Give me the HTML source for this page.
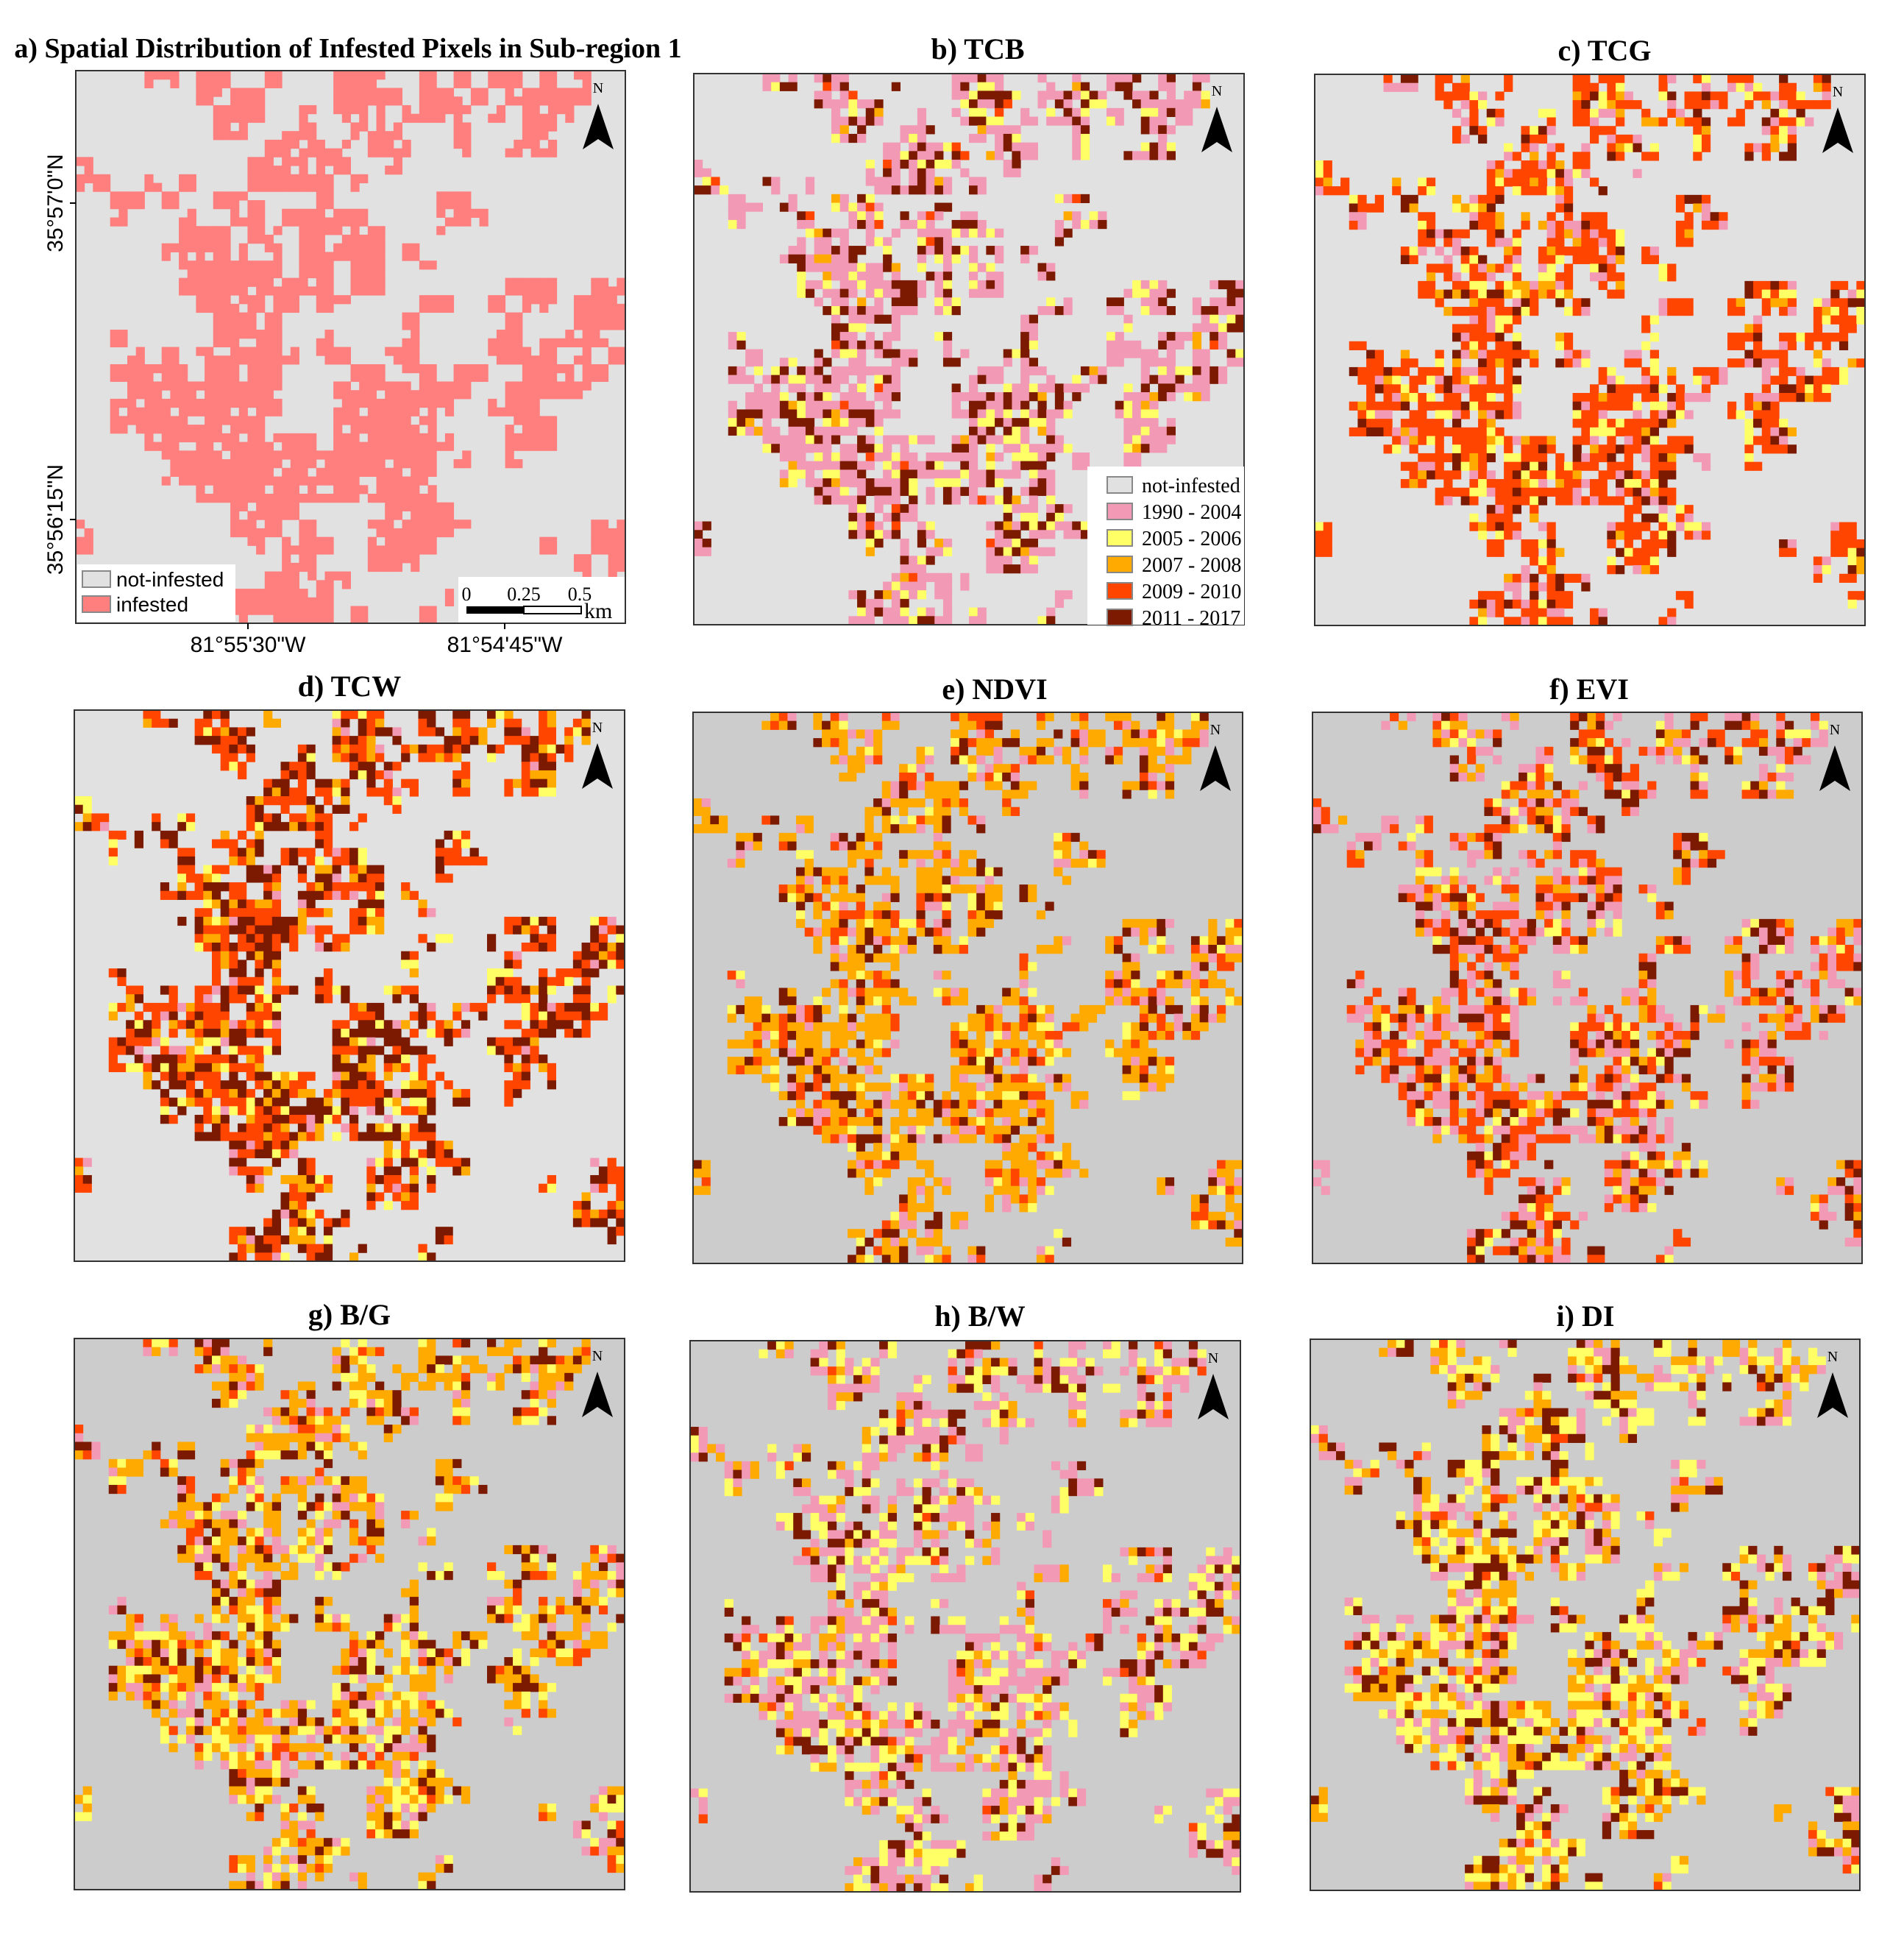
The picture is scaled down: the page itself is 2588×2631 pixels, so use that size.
<!DOCTYPE html>
<html><head><meta charset="utf-8">
<style>
html,body{margin:0;padding:0;background:#fff;}
svg{display:block;}
</style></head>
<body>
<svg id="fig" width="2588" height="2631" viewBox="0 0 2588 2631" xmlns="http://www.w3.org/2000/svg">
<g id="panels"></g>
</svg>
<script>
// Infested mask (32x32 coarse cells)
const maskRows = [
"....##.##..#...###..#.#.##.#.#..",
".......####....####.####.#####..",
"........###..#.###.####.#.###...",
"........##..##..###...#...##....",
"...........#####.###..#..###....",
"#.........######..#.............",
"##..#.#...#####.#...............",
"..##.#..###...#......##.........",
"..#...#..##.#####....###........",
"......###.##.#####...#..........",
".....#####.#.#####.#............",
"......######.##.##..#...........",
"......#########.##.......###..##",
".......######.##....##..#.##.###",
"........####.......#.....#...###",
"..#.....####..#....#....##.####.",
"...#.#.######.##..##....####.#.#",
"..##########....##.##.##..#####.",
"...#########...########..#####..",
"..##########...#######..###.....",
"..#########....######....###....",
"....##########.#######...###....",
".....################.#..#......",
".....################...........",
".......##############...........",
".........####.....####..........",
"#........###.#...######.......##",
"#.........#.###..####......#..##",
"............##...###.........#.#",
"...........#####.............###",
".........######......#.........#",
".........######.#...#..........."
];
const classNames = ["1990 - 2004","2005 - 2006","2007 - 2008","2009 - 2010","2011 - 2017"];
const classColors = ["#f29ab5","#ffff66","#ffaa00","#ff4500","#7b1a00"];
const panelTitles = ["b) TCB","c) TCG","d) TCW","e) NDVI","f) EVI","g) B/G","h) B/W","i) DI"];
// class share per panel: pink, yellow, orange, red, brown
const shareTCB  = [0.58,0.14,0.03,0.02,0.23];
const shareTCG  = [0.15,0.12,0.08,0.55,0.10];
const shareTCW  = [0.05,0.08,0.12,0.40,0.35];
const shareNDVI = [0.12,0.08,0.50,0.15,0.15];
const shareEVI  = [0.30,0.10,0.15,0.30,0.15];
const shareBG   = [0.15,0.20,0.40,0.10,0.15];
const shareBW   = [0.45,0.25,0.12,0.03,0.15];
const shareDI   = [0.20,0.30,0.25,0.05,0.20];
const shares = [shareTCB,shareTCG,shareTCW,shareNDVI,shareEVI,shareBG,shareBW,shareDI];

const NS="http://www.w3.org/2000/svg";
const root=document.getElementById('panels');
function mk(tag,attrs,parent){const e=document.createElementNS(NS,tag);for(const k in attrs)e.setAttribute(k,attrs[k]);(parent||root).appendChild(e);return e;}

const boxes=[
 [103,96,747,751,"#e1e1e1"],
 [943,100,748,749,"#e1e1e1"],
 [1787,101,748,749,"#e1e1e1"],
 [101,965,748,749,"#e1e1e1"],
 [942,968,747,749,"#cccccc"],
 [1784,968,747,749,"#cccccc"],
 [101,1819,748,749,"#cccccc"],
 [938,1822,748,749,"#cccccc"],
 [1781,1820,747,749,"#cccccc"]
];
const titleX=[473,1329,2181,475,1352,2160,475,1332,2155];
const titleY=[78,80,82,946,950,950,1800,1802,1802];

function hash(a,b,c){let h=(a*73856093)^(b*19349663)^(c*83492791);h=(h^(h>>>13))*1274126177;h=h^(h>>>16);return ((h>>>0)%10000)/10000;}

boxes.forEach((bx,p)=>{
  const [x0,y0,w,h,bg]=bx;
  const g=mk('g',{});
  
  
  mk('rect',{x:x0,y:y0,width:w,height:h,fill:bg},g);
  const cw=w/32,ch=h/32;
  maskRows.forEach((row,r)=>{
    for(let c=0;c<32;c++){
      if(row[c]!=='#')continue;
      for(let s=0;s<4;s++){
        const sx=x0+c*cw+(s&1)*cw/2, sy=y0+r*ch+(s>>1)*ch/2;
        const hole=hash(r*2+(s>>1)+7,c*2+(s&1)+3,p+11);
        if(hole<(p===0?0.12:0.2))continue;
        let fill='#ff7f7f';
        if(p>0){
          const sh=shares[p-1];
          const u=hash(r*2+(s>>1),c*2+(s&1),p);
          let acc=0,k=0;
          for(k=0;k<5;k++){acc+=sh[k];if(u<acc)break;}
          if(k>4)k=4;
          fill=classColors[k];
        }
        const cell=mk('rect',{x:sx,y:sy,width:cw/2+0.5,height:ch/2+0.5,fill:fill},g);
        
        
      }
    }
  });
  mk('rect',{x:x0,y:y0,width:w,height:h,fill:'none',stroke:'#333',"stroke-width":2},g);
  const ax=x0+w-37, ay=y0+45;
  const nt=mk('text',{x:ax,y:y0+30,"font-family":"Liberation Serif, serif","font-size":20,"text-anchor":"middle"},g);
  nt.textContent='N';
  
  
  const arr=mk('path',{d:`M${ax} ${ay} L${ax+21} ${ay+62} L${ax} ${ay+48} L${ax-21} ${ay+62} Z`,fill:'#000'},g);
  
  
  const t=mk('text',{x:titleX[p],y:titleY[p],"font-family":"Liberation Serif, serif","font-size":p===0?38:40,"font-weight":"bold","text-anchor":"middle"});
  t.textContent=p===0?'a) Spatial Distribution of Infested Pixels in Sub-region 1':panelTitles[p-1];
  
  
});

const la=mk('g',{});


mk('rect',{x:105,y:767,width:215,height:78,fill:'#fff'},la);
mk('rect',{x:112,y:776,width:38,height:22,fill:'#e1e1e1',stroke:'#888','stroke-width':2},la);
mk('rect',{x:112,y:810,width:38,height:22,fill:'#ff7f7f',stroke:'#888','stroke-width':2},la);
let tx=mk('text',{x:158,y:797,"font-family":"Liberation Sans, sans-serif","font-size":28},la);tx.textContent='not-infested';
tx=mk('text',{x:158,y:831,"font-family":"Liberation Sans, sans-serif","font-size":28},la);tx.textContent='infested';

const sb=mk('g',{});


mk('rect',{x:623,y:784,width:226,height:62,fill:'#fff'},sb);
mk('rect',{x:634,y:824,width:78,height:10,fill:'#000'},sb);
mk('rect',{x:712,y:824,width:78,height:10,fill:'#fff',stroke:'#000','stroke-width':2},sb);
[["0",634],["0.25",712],["0.5",788]].forEach(([s,x])=>{const e=mk('text',{x:x,y:816,"font-family":"Liberation Serif, serif","font-size":26,"text-anchor":"middle"},sb);e.textContent=s;});
tx=mk('text',{x:794,y:840,"font-family":"Liberation Serif, serif","font-size":30},sb);tx.textContent='km';

const axl=[["81°55'30\"W",337,886],["81°54'45\"W",686,886]];
axl.forEach(([s,x,y])=>{const e=mk('text',{x:x,y:y,"font-family":"Liberation Sans, sans-serif","font-size":30,"text-anchor":"middle"});e.textContent=s;});
[["35°57'0\"N",276],["35°56'15\"N",706]].forEach(([s,y])=>{const e=mk('text',{x:0,y:0,"font-family":"Liberation Sans, sans-serif","font-size":30,"text-anchor":"middle",transform:`translate(85 ${y}) rotate(-90)`});e.textContent=s;});
mk('line',{x1:95,y1:276,x2:103,y2:276,stroke:'#000','stroke-width':2});
mk('line',{x1:95,y1:706,x2:103,y2:706,stroke:'#000','stroke-width':2});
mk('line',{x1:337,y1:847,x2:337,y2:855,stroke:'#000','stroke-width':2});
mk('line',{x1:686,y1:847,x2:686,y2:855,stroke:'#000','stroke-width':2});

const lb=mk('g',{});


mk('rect',{x:1478,y:634,width:213,height:215,fill:'#fff'},lb);
const legCols=["#e1e1e1"].concat(classColors), legNames=["not-infested"].concat(classNames);
legNames.forEach((n,i)=>{
  const y=648+i*36;
  mk('rect',{x:1505,y:y,width:34,height:22,fill:legCols[i],stroke:'#888','stroke-width':2},lb);
  const e=mk('text',{x:1552,y:y+21,"font-family":"Liberation Serif, serif","font-size":28},lb);
  e.textContent=n;
});
</script>
</body></html>
